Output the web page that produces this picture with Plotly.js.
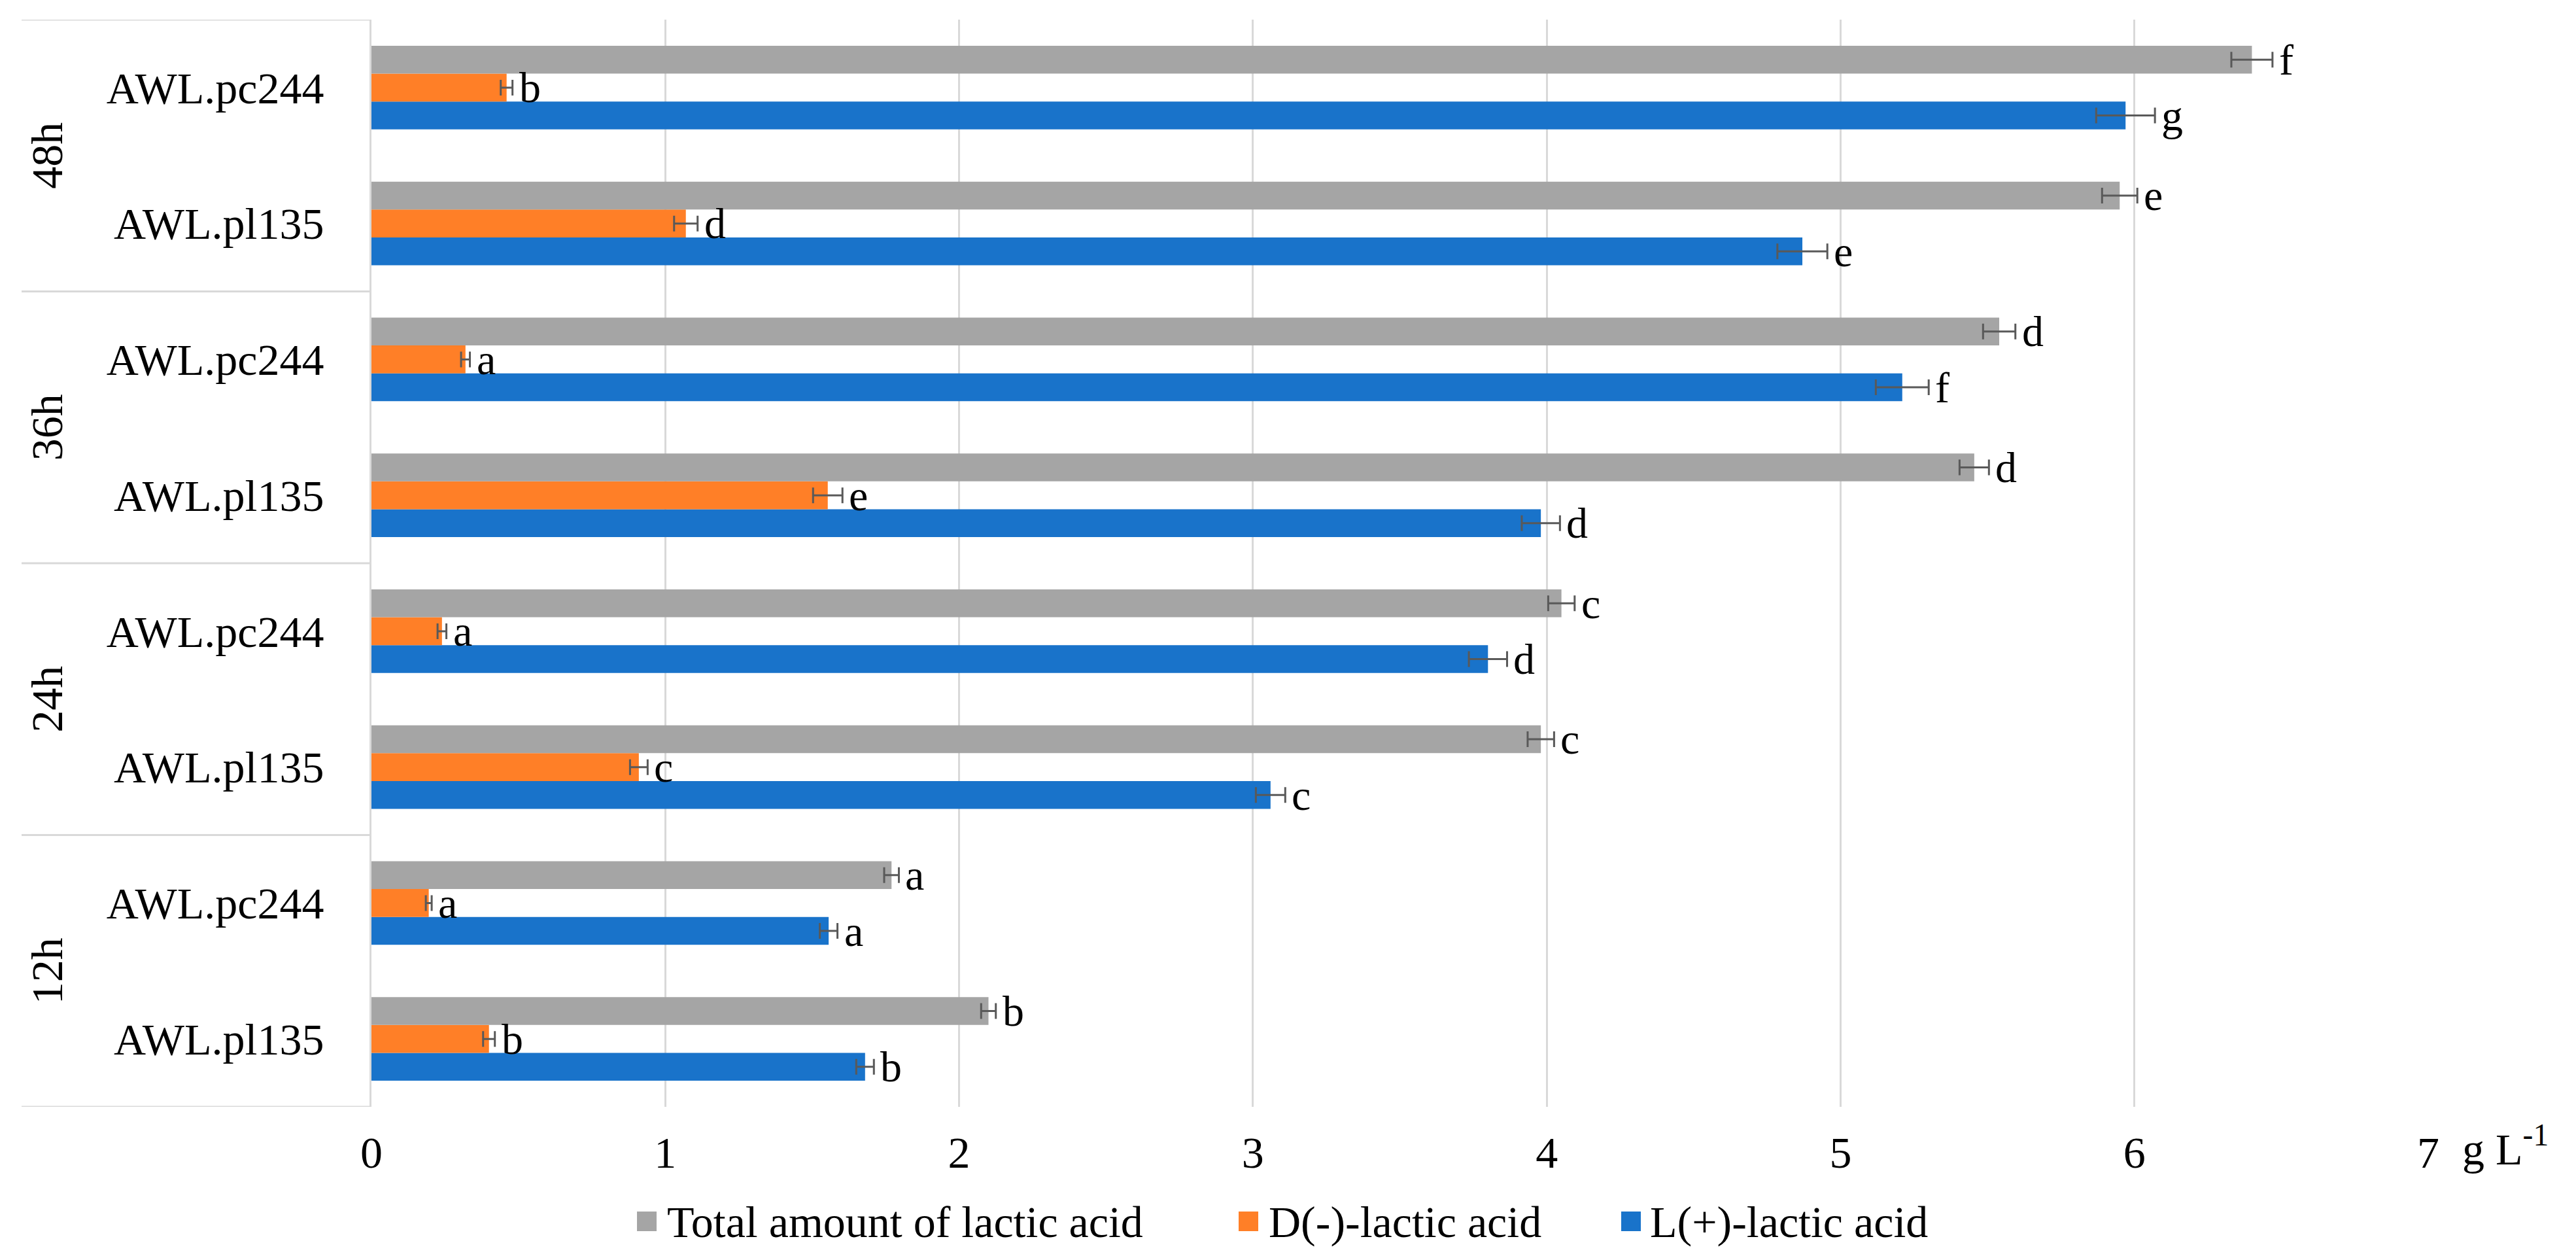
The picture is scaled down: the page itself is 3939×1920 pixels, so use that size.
<!DOCTYPE html>
<html>
<head>
<meta charset="utf-8">
<script src="https://cdn.plot.ly/plotly-3.0.1.min.js"></script>
<style>
  html, body { margin: 0; padding: 0; background: #fff; }
  #chart { width: 3939px; height: 1920px; }
</style>
</head>
<body>
<div id="chart"></div>
<script>
// ---- data (bottom to top) ----
const groups = ['12h', '24h', '36h', '48h'];
const strains = ['AWL.pl135', 'AWL.pc244'];
const seriesNames = ['Total amount of lactic acid', 'D(-)-lactic acid', 'L(+)-lactic acid'];

const totalVals = [2.10, 1.77, 3.98, 4.05, 5.455, 5.54, 5.95, 6.40];
const totalErr  = [0.025, 0.025, 0.045, 0.045, 0.05, 0.055, 0.06, 0.07];
const totalLet  = ['b', 'a', 'c', 'c', 'd', 'd', 'e', 'f'];

const dVals = [0.40, 0.195, 0.91, 0.24, 1.553, 0.32, 1.07, 0.46];
const dErr  = [0.02, 0.01, 0.03, 0.015, 0.05, 0.015, 0.04, 0.02];
const dLet  = ['b', 'a', 'c', 'a', 'e', 'a', 'd', 'b'];

const lVals = [1.68, 1.556, 3.06, 3.80, 3.98, 5.21, 4.87, 5.97];
const lErr  = [0.03, 0.03, 0.05, 0.065, 0.065, 0.09, 0.085, 0.10];
const lLet  = ['b', 'a', 'c', 'd', 'd', 'f', 'e', 'g'];

const xTicks = [0, 1, 2, 3, 4, 5, 6, 7];
const unitLabel = 'g L<sup>-1</sup>';

// ---- styles ----
const W = 3939, H = 1920;
const M = { l: 568, r: 226, t: 30, b: 228 };
const PW = W - M.l - M.r, PH = H - M.t - M.b;
const FONT = 'Liberation Serif, Times New Roman, serif';
const FS = 68;
const colors = { total: '#A5A5A5', d: '#FF7F27', l: '#1973CA' };
const gridCol = '#D9D9D9';
const errCol = '#595959';
const bargap = 0.384;
const barW = (1 - bargap) / 3;

// categories
const cats = [];
const catText = [];
groups.forEach(g => strains.forEach(s => { cats.push(g + ' ' + s); catText.push(s); }));

function px2paperX(px) { return (px - M.l) / PW; }
function px2paperY(py) { return (M.t + PH - py) / PH; }

function barTrace(name, vals, errs, color) {
  return {
    type: 'bar', orientation: 'h', name: name,
    y: cats, x: vals,
    marker: { color: color, line: { width: 0 } },
    error_x: { type: 'data', array: errs, symmetric: true, visible: true,
               color: errCol, thickness: 3, width: 12 },
    showlegend: false, hoverinfo: 'x+name'
  };
}

const traces = [
  barTrace(seriesNames[2], lVals, lErr, colors.l),
  barTrace(seriesNames[1], dVals, dErr, colors.d),
  barTrace(seriesNames[0], totalVals, totalErr, colors.total)
];

const annotations = [];
const shapes = [];

// significance letters
function addLetters(vals, errs, lets, offset) {
  vals.forEach((v, i) => {
    annotations.push({
      x: v + errs[i], y: i + offset, xref: 'x', yref: 'y',
      text: lets[i], showarrow: false, xanchor: 'left', yanchor: 'middle',
      xshift: 8, font: { family: FONT, size: 66, color: '#000' }
    });
  });
}
addLetters(totalVals, totalErr, totalLet, barW);
addLetters(dVals, dErr, dLet, 0);
addLetters(lVals, lErr, lLet, -barW);

// group labels and separator lines
groups.forEach((g, gi) => {
  annotations.push({
    x: px2paperX(72), xref: 'paper', y: gi * strains.length + (strains.length - 1) / 2, yref: 'y',
    text: g, textangle: -90, showarrow: false, xanchor: 'center', yanchor: 'middle',
    font: { family: FONT, size: FS, color: '#000' }
  });
});
for (let k = 0; k <= groups.length; k++) {
  const yv = k * strains.length - 0.5;
  shapes.push({
    type: 'line', xref: 'paper', yref: 'y',
    x0: px2paperX(33), x1: 0, y0: yv, y1: yv,
    line: { color: gridCol, width: 3 }
  });
}

// unit label after the last tick
annotations.push({
  x: 1, xref: 'paper', y: 0, yref: 'paper', xanchor: 'left', yanchor: 'middle',
  xshift: 50, yshift: -60, text: unitLabel, showarrow: false,
  font: { family: FONT, size: FS, color: '#000' }
});

// manual legend (large square symbols)
const legItems = [
  { name: seriesNames[0], color: colors.total, sx: 974, tx: 1018 },
  { name: seriesNames[1], color: colors.d, sx: 1894, tx: 1938 },
  { name: seriesNames[2], color: colors.l, sx: 2479, tx: 2521 }
];
const legY = 1868;
legItems.forEach(it => {
  shapes.push({
    type: 'rect', xref: 'paper', yref: 'paper',
    x0: px2paperX(it.sx), x1: px2paperX(it.sx + 30),
    y0: px2paperY(legY + 14), y1: px2paperY(legY - 16),
    fillcolor: it.color, line: { width: 0 }
  });
  annotations.push({
    x: px2paperX(it.tx), xref: 'paper', y: px2paperY(legY), yref: 'paper',
    xanchor: 'left', yanchor: 'middle', text: it.name, showarrow: false,
    font: { family: FONT, size: FS, color: '#000' }
  });
});

const layout = {
  width: W, height: H,
  margin: M,
  paper_bgcolor: '#fff', plot_bgcolor: '#fff',
  barmode: 'group', bargap: bargap, bargroupgap: 0,
  font: { family: FONT, size: FS, color: '#000' },
  showlegend: false,
  xaxis: {
    range: [0, 7], tickvals: xTicks, ticktext: xTicks.map(String),
    showgrid: true, gridcolor: gridCol, gridwidth: 3,
    zeroline: false, showline: false, ticks: '',
    ticklabelstandoff: 24,
    tickfont: { family: FONT, size: FS, color: '#000' }
  },
  yaxis: {
    type: 'category', categoryorder: 'array', categoryarray: cats,
    tickvals: cats, ticktext: catText,
    range: [-0.5, cats.length - 0.5],
    showgrid: false, zeroline: false,
    showline: true, linecolor: gridCol, linewidth: 3,
    ticks: '', ticklabelstandoff: 56,
    tickfont: { family: FONT, size: FS, color: '#000' }
  },
  annotations: annotations,
  shapes: shapes
};

Plotly.newPlot('chart', traces, layout, { staticPlot: true, displayModeBar: false });
</script>
</body>
</html>
